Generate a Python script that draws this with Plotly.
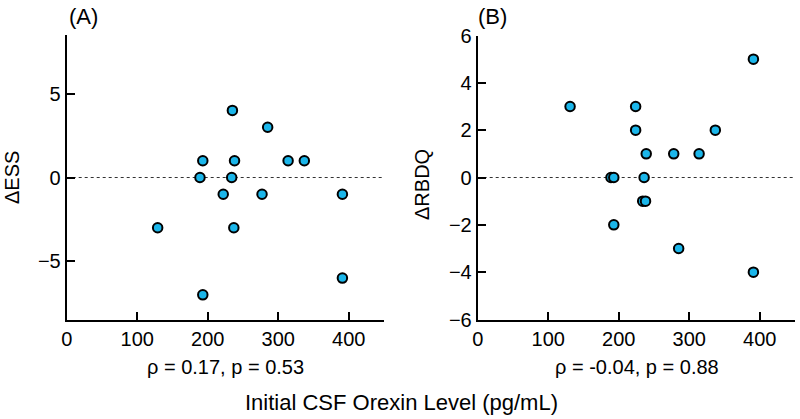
import plotly.graph_objects as go

# Panel A: change in ESS
ess_orexin = [235, 285, 193, 238, 314, 337, 189, 234, 222, 277, 391, 129, 237, 391, 193]
ess_delta = [4, 3, 1, 1, 1, 1, 0, 0, -1, -1, -1, -3, -3, -6, -7]

# Panel B: change in RBDQ
rbdq_orexin = [131, 224, 224, 239, 278, 314, 337, 391, 391, 189, 193, 236, 234, 238, 193, 285]
rbdq_delta = [3, 3, 2, 1, 1, 1, 2, 5, -4, 0, 0, 0, -1, -1, -2, -3]

x_ticks = [0, 100, 200, 300, 400]
ess_ticks = [-5, 0, 5]
rbdq_ticks = [-6, -4, -2, 0, 2, 4, 6]

ann_a = "ρ = 0.17, p = 0.53"
ann_b = "ρ = -0.04, p = 0.88"

FONT = "Liberation Sans, Arial, sans-serif"
FILL = "#1BB6EA"

fig = go.Figure()
marker = dict(size=9.5, color=FILL, line=dict(color="black", width=2))
fig.add_trace(go.Scatter(x=ess_orexin, y=ess_delta, mode="markers", marker=marker,
                         xaxis="x", yaxis="y", showlegend=False, cliponaxis=False))
fig.add_trace(go.Scatter(x=rbdq_orexin, y=rbdq_delta, mode="markers", marker=marker,
                         xaxis="x2", yaxis="y2", showlegend=False, cliponaxis=False))

W, H = 800, 419
def px(xp): return xp / W
def py(yp): return (H - yp) / H

ydom = [py(320), py(35)]
ydom2 = [py(319.5), py(35.5)]

axis_common = dict(showline=True, linecolor="black", linewidth=2, ticks="inside",
                   ticklen=8, tickwidth=2, tickcolor="black", showgrid=False,
                   zeroline=False, automargin=False,
                   tickfont=dict(size=20, color="black", family=FONT))

fig.update_layout(
    width=W, height=H, margin=dict(l=0, r=0, t=0, b=0, pad=0, autoexpand=False),
    plot_bgcolor="white", paper_bgcolor="white",
    font=dict(family=FONT, color="black"),
    xaxis=dict(domain=[px(66.7), px(384)], range=[0, 450], tickvals=x_ticks,
               anchor="y", **axis_common),
    yaxis=dict(domain=ydom, range=[-8.5, 8.5], tickvals=ess_ticks,
               ticktext=["−5", "0", "5"], anchor="x", **axis_common),
    xaxis2=dict(domain=[px(477.7), px(795)], range=[0, 450], tickvals=x_ticks,
                anchor="y2", **axis_common),
    yaxis2=dict(domain=ydom2, range=[-6, 6], tickvals=rbdq_ticks,
                ticktext=["−6", "−4", "−2", "0", "2", "4", "6"], anchor="x2", **axis_common),
)

for xr, yr in (("x", "y"), ("x2", "y2")):
    fig.add_shape(type="line", xref=xr, yref=yr, x0=0, x1=450, y0=0, y1=0,
                  line=dict(color="#333333", width=1, dash="dot"), layer="below")

def ann(text, x, y, size, angle=0):
    fig.add_annotation(text=text, xref="paper", yref="paper", x=px(x), y=py(y),
                       showarrow=False, textangle=angle, xanchor="center", yanchor="middle",
                       font=dict(size=size, family=FONT, color="black"))

ann("(A)", 83.3, 16, 22)
ann("(B)", 492, 16, 22)
ann("ΔESS", 12, 178, 20, -90)
ann("ΔRBDQ", 422, 185, 20, -90)
ann(ann_a, 225, 367, 20)
ann(ann_b, 637, 367, 20)
ann("Initial CSF Orexin Level (pg/mL)", 401, 402, 22)

fig.write_html("out.html", config={"displayModeBar": False},
               post_script="document.body.style.margin='0';document.body.style.overflow='hidden';")
